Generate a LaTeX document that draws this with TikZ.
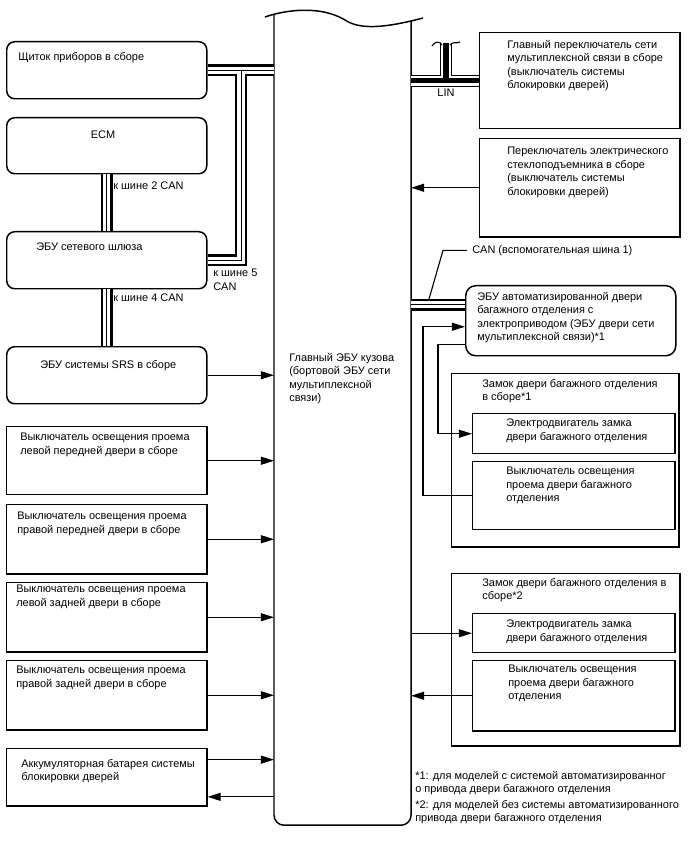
\documentclass[tikz,border=0pt]{standalone}
\usepackage{fontspec}
\setmainfont{Liberation Sans}
\usetikzlibrary{arrows.meta,positioning,calc}

\begin{document}
\begin{tikzpicture}[
    x=0.025cm, y=-0.025cm,
    font=\fontsize{7.8}{9.6}\selectfont,
    box/.style={
        draw,
        line width=1.05pt,
        anchor=north west,
        inner sep=0pt,
        minimum width=5cm
    },
    roundbox/.style={box, rounded corners=0.2cm},
    txt/.style={anchor=north west, inner sep=0pt, align=left},
    arrow/.style={-{Triangle[length=0.33cm, width=0.2cm]}, line width=0.9pt},
    link/.style={line width=0.8pt},
    canbus/.style={
        line width=0.29cm,
        postaction={draw=white, line width=0.18cm},
        postaction={draw=black, line width=0.6pt}
    },
    linbus/.style={
        line width=0.3cm,
        postaction={draw=white, line width=0.25cm},
        postaction={draw=black, line width=0.13cm}
    }
]
\useasboundingbox (0,0) rectangle (688,852);

\node[minimum width=3.425cm, minimum height=20.25cm, anchor=north west, inner sep=0pt, outer sep=0pt] (bcm) at (274,15) {};
\draw[line width=1.05pt, rounded corners=0.25cm] (bcm.north west) -- (bcm.south west) -- (bcm.south east) -- ([yshift=-0.15cm]bcm.north east);
\draw[line width=1.05pt] (265,17) .. controls (285,10) and (320,5) .. (345,20) .. controls (360,30) and (385,28) .. (423,18);
\node[txt] (bcm-t) at (289,353) {Главный ЭБУ кузова\\(бортовой ЭБУ сети\\мультиплексной\\связи)};

\node[roundbox, minimum height=1.425cm] (ip) at (6,41) {};
\node[roundbox, minimum height=1.4cm] (ecm) at (6,117) {};
\node[roundbox, minimum height=1.425cm] (gw) at (6,231) {};
\node[roundbox, minimum height=1.425cm] (srs) at (6,346) {};
\node[box, minimum height=1.7cm] (lf) at (6,426) {};
\node[box, minimum height=1.725cm] (rf) at (6,504) {};
\node[box, minimum height=1.725cm] (lr) at (6,582) {};
\node[box, minimum height=1.725cm] (rr) at (6,660) {};
\node[box, minimum height=1.425cm] (bat) at (6,748) {};

\node[txt] (ip-t) at (18,52) {Щиток приборов в сборе};
\node[txt, anchor=north] (ecm-t) at (103,131) {ECM};
\node[txt] (gw-t) at (36,243) {ЭБУ сетевого шлюза};
\node[txt] (srs-t) at (40,360) {ЭБУ системы SRS в сборе};
\node[txt] (lf-t) at (20,433) {Выключатель освещения проема\\левой передней двери в сборе};
\node[txt] (rf-t) at (17,512) {Выключатель освещения проема\\правой передней двери в сборе};
\node[txt] (lr-t) at (16,585) {Выключатель освещения проема\\левой задней двери в сборе};
\node[txt] (rr-t) at (16,666) {Выключатель освещения проема\\правой задней двери в сборе};
\node[txt] (bat-t) at (21,759) {Аккумуляторная батарея системы\\блокировки дверей};

\coordinate (j5) at (241,0);
\draw[canbus] (ip.east) -- (ip.east -| bcm.west)
    (ip.east -| j5) -- (gw.east -| j5) -- (gw.east);
\draw[canbus] (ecm.south) -- (gw.north);
\draw[canbus] (gw.south) -- (srs.north);
\node[txt] (can2) at (113,182) {к шине 2 CAN};
\node[txt] (can4) at (113,294) {к шине 4 CAN};
\node[txt] (can5) at (213,269) {к шине 5\\CAN};

\draw[arrow] (srs.east) -- (srs.east -| bcm.west);
\foreach \b in {lf,rf,lr,rr}
    \draw[arrow] (\b.east) -- (\b.east -| bcm.west);
\coordinate (batin) at ([yshift=0.44cm]bat.east);
\coordinate (batout) at ([yshift=-0.49cm]bat.east);
\draw[arrow] (batin) -- (batin -| bcm.west);
\draw[arrow] (batout -| bcm.west) -- (batout);

\node[box, minimum height=2.4cm] (msw) at (479,32) {};
\node[box, minimum height=2.45cm] (pws) at (479,138) {};
\node[roundbox, rounded corners=0.25cm, minimum width=5.25cm, minimum height=1.75cm] (pbd) at (465,285) {};
\node[box, minimum width=5.675cm, minimum height=4.325cm] (lk1) at (451,373) {};
\node[box, minimum width=5.05cm, minimum height=1cm] (mt1) at (472,413) {};
\node[box, minimum width=5.05cm, minimum height=1.7cm] (sw1) at (472,461) {};
\node[box, minimum width=5.7cm, minimum height=4.3cm] (lk2) at (451,573) {};
\node[box, minimum width=5.05cm, minimum height=0.975cm] (mt2) at (472,613) {};
\node[box, minimum width=5.05cm, minimum height=1.75cm] (sw2) at (472,660) {};

\node[txt] (msw-t) at (507,40) {Главный переключатель сети\\мультиплексной связи в сборе\\(выключатель системы\\блокировки дверей)};
\node[txt] (pws-t) at (507,147) {Переключатель электрического\\стеклоподъемника в сборе\\(выключатель системы\\блокировки дверей)};
\node[txt] (pbd-t) at (477,292) {ЭБУ автоматизированной двери\\багажного отделения с\\электроприводом (ЭБУ двери сети\\мультиплексной связи)*1};
\node[txt] (lk1-t) at (482,379) {Замок двери багажного отделения\\в сборе*1};
\node[txt] (mt1-t) at (506,419) {Электродвигатель замка\\двери багажного отделения};
\node[txt] (sw1-t) at (506,467) {Выключатель освещения\\проема двери багажного\\отделения};
\node[txt] (lk2-t) at (482,578) {Замок двери багажного отделения в\\сборе*2};
\node[txt] (mt2-t) at (506,620) {Электродвигатель замка\\двери багажного отделения};
\node[txt] (sw2-t) at (508,665) {Выключатель освещения\\проема двери багажного\\отделения};
\node[txt] (note1) at (415,771) {*1: для моделей с системой автоматизированног\\о привода двери багажного отделения};
\node[txt] (note2) at (415,800) {*2: для моделей без системы автоматизированного\\привода двери багажного отделения};

\coordinate (lintap) at (446,43);
\draw[linbus] (msw.west) -- (msw.west -| bcm.east)
    (msw.west -| lintap) -- (lintap);
\draw[link] (432,46) .. controls (435,41) and (440,41) .. (442,45);
\draw[link] (450,45) .. controls (453,41) and (456,44) .. (460,42);
\node[txt, anchor=north] (lin) at (446,89) {LIN};

\draw[arrow] (pws.west) -- (pws.west -| bcm.east);

\coordinate (cb1) at ($(pbd.west)+(0,-16)$);
\coordinate (cbtap) at (429,299);
\draw[canbus] (cb1) -- (cb1 -| bcm.east);
\node[txt] (can1) at (472,245) {CAN (вспомогательная шина 1)};
\draw[link] ([xshift=-0.125cm]can1.west) -- ++(-24,0) -- (cbtap);

\draw[arrow] (sw1.west) -- ++(-49,0) |- ([yshift=-0.15cm]pbd.west);
\draw[arrow] ([yshift=-0.6cm]pbd.west) -- ++(-27,0) |- (mt1.west);
\draw[arrow] (mt2.west -| bcm.east) -- (mt2.west);
\draw[arrow] (sw2.west) -- (sw2.west -| bcm.east);
\end{tikzpicture}
\end{document}
